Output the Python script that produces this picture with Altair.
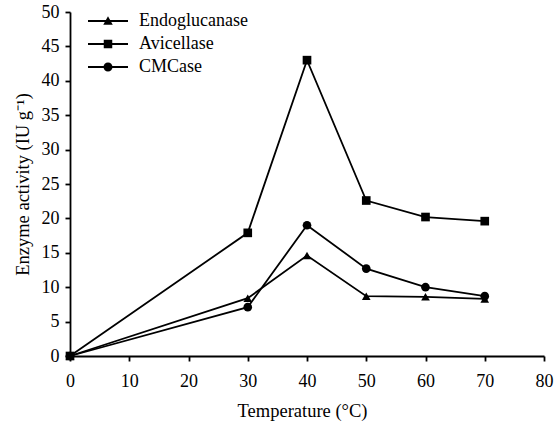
import altair as alt
import pandas as pd

temps = [0, 30, 40, 50, 60, 70]
endoglucanase = [0, 8.4, 14.6, 8.7, 8.6, 8.3]
avicellase = [0, 17.9, 43.0, 22.6, 20.2, 19.6]
cmcase = [0, 7.1, 19.0, 12.7, 10.0, 8.7]
series_names = ["Endoglucanase", "Avicellase", "CMCase"]

rows = []
for name, vals in zip(series_names, [endoglucanase, avicellase, cmcase]):
    for t, v in zip(temps, vals):
        rows.append({"Temperature": t, "Activity": v, "Series": name})
df = pd.DataFrame(rows)

FONT = "Liberation Serif"
FS = 18

# custom legend symbols: filled thin bar (line) with marker (unit = sqrt(size)/2 px)
BAR = "M-4,-0.18L4,-0.18L4,0.18L-4,0.18Z"
leg_paths = [
    BAR + "M0,-0.95L0.95,0.75L-0.95,0.75Z",
    BAR + "M-0.85,-0.85L0.85,-0.85L0.85,0.85L-0.85,0.85Z",
    BAR + "M0.9,0A0.9,0.9,0,1,1,-0.9,0A0.9,0.9,0,1,1,0.9,0Z",
]

x_enc = alt.X("Temperature:Q",
              scale=alt.Scale(domain=[0, 80], nice=False, zero=False),
              axis=alt.Axis(values=list(range(0, 81, 10)), title="Temperature (°C)",
                            titleX=232, titlePadding=11, labelFlush=False, labelPadding=11))
y_enc = alt.Y("Activity:Q",
              scale=alt.Scale(domain=[0, 50], nice=False),
              axis=alt.Axis(values=list(range(0, 51, 5)), title="Enzyme activity (IU g⁻¹)",
                            titlePadding=9, labelFlush=False, labelPadding=6))

base = alt.Chart(df)

lines = base.mark_line(color="black", strokeWidth=1.8).encode(
    x=x_enc, y=y_enc, detail="Series:N")

points = base.mark_point(filled=True, color="black", opacity=1).encode(
    x=x_enc, y=y_enc,
    shape=alt.Shape("Series:N",
                    scale=alt.Scale(domain=series_names,
                                    range=["triangle-up", "square", "circle"]),
                    legend=None),
    size=alt.value(75))

legend_layer = base.transform_filter("false").mark_point(
    filled=True, color="black", opacity=1
).encode(
    x=x_enc, y=y_enc,
    shape=alt.Shape("Series:N",
                    scale=alt.Scale(domain=series_names, range=leg_paths),
                    sort=series_names,
                    legend=alt.Legend(title=None, orient="none", legendX=29, legendY=0,
                                      symbolSize=100, symbolFillColor="black",
                                      symbolOpacity=1, labelOffset=22, rowPadding=5,
                                      padding=0, labelFont=FONT, labelFontSize=FS,
                                      labelColor="black")),
    size=alt.value(100))

chart = alt.layer(lines, points, legend_layer).resolve_scale(
    shape="independent"
).properties(
    width=474, height=344,
    autosize=alt.AutoSizeParams(type="none"),
    padding={"left": 70, "top": 12, "right": 12, "bottom": 67},
    background="white",
).configure(font=FONT).configure_view(stroke=None).configure_axis(
    grid=False, domainColor="black", domainWidth=1.8, tickColor="black", tickWidth=1.8,
    tickSize=5, labelFont=FONT, labelFontSize=FS, labelColor="black",
    titleFont=FONT, titleFontSize=18.5, titleFontWeight="normal", titleColor="black",
).configure_legend(labelFont=FONT, labelFontSize=FS)

chart.save("out.html", embed_options={"renderer": "svg", "actions": False})
